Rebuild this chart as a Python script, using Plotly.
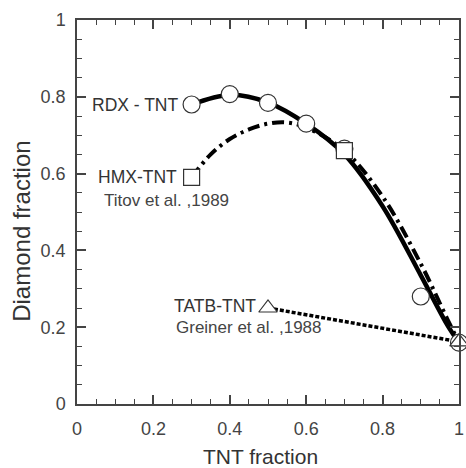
import plotly.graph_objects as go

# RDX-TNT measured points (circles)
rdx_x = [0.3, 0.4, 0.5, 0.6, 0.7, 0.9, 1.0]
rdx_y = [0.78, 0.807, 0.784, 0.73, 0.665, 0.28, 0.16]
# RDX-TNT fit curve (solid)
rdx_fit_x = [0.3, 0.4, 0.5, 0.6, 0.7, 0.8, 0.9, 0.97, 1.0]
rdx_fit_y = [0.78, 0.805, 0.785, 0.73, 0.65, 0.515, 0.335, 0.205, 0.16]
# HMX-TNT points (squares)
hmx_x = [0.3, 0.7]
hmx_y = [0.59, 0.66]
# HMX-TNT fit curve (dash-dot)
hmx_fit_x = [0.3, 0.35, 0.4, 0.45, 0.5, 0.55, 0.6, 0.7, 0.8, 0.9, 0.97, 1.0]
hmx_fit_y = [0.59, 0.65, 0.69, 0.715, 0.73, 0.733, 0.72, 0.66, 0.54, 0.365, 0.22, 0.16]
# TATB-TNT (triangles + dotted line)
tatb_x = [0.5, 1.0]
tatb_y = [0.25, 0.162]
tick_vals = [0, 0.2, 0.4, 0.6, 0.8, 1]
tick_text = ["0", "0.2", "0.4", "0.6", "0.8", "1"]

FONT = "Liberation Sans, Arial, sans-serif"

fig = go.Figure()
fig.add_trace(go.Scatter(x=rdx_fit_x, y=rdx_fit_y, mode="lines", line=dict(color="black", width=4.5, shape="spline"), hoverinfo="skip"))
fig.add_trace(go.Scatter(x=hmx_fit_x, y=hmx_fit_y, mode="lines", line=dict(color="black", width=4, shape="spline", dash="12px,5px,3px,5px"), hoverinfo="skip"))
fig.add_trace(go.Scatter(x=tatb_x, y=tatb_y, mode="lines", line=dict(color="black", width=3.5, dash="4px,2px")))
fig.add_trace(go.Scatter(x=rdx_x, y=rdx_y, mode="markers", cliponaxis=False,
                         marker=dict(symbol="circle", size=17, color="white", line=dict(color="#333", width=1.2))))
fig.add_trace(go.Scatter(x=hmx_x, y=hmx_y, mode="markers", cliponaxis=False,
                         marker=dict(symbol="square", size=16, color="white", line=dict(color="#333", width=1.2))))
fig.add_trace(go.Scatter(x=tatb_x, y=tatb_y, mode="markers", cliponaxis=False,
                         marker=dict(symbol="triangle-up", size=16, color="white", line=dict(color="#333", width=1.2))))

big = dict(family=FONT, size=17.5, color="#333")
small = dict(family=FONT, size=17, color="#444")
labels = [
    ("RDX - TNT", 0.272, 0.778, "right", big),
    ("HMX-TNT", 0.268, 0.59, "right", big),
    ("Titov et al. ,1989", 0.065, 0.53, "left", small),
    ("TATB-TNT", 0.473, 0.255, "right", big),
    ("Greiner et al. ,1988", 0.255, 0.198, "left", small),
]
for t, x, y, anc, f in labels:
    fig.add_annotation(x=x, y=y, text=t, showarrow=False, xanchor=anc, yanchor="middle", font=f)

# axis titles
fig.add_annotation(xref="paper", yref="paper", x=0.48, y=-0.138, text="TNT fraction", showarrow=False,
                   xanchor="center", yanchor="middle", font=dict(family=FONT, size=21, color="#333"))
fig.add_annotation(xref="paper", yref="paper", x=-0.145, y=0.45, text="Diamond fraction", showarrow=False, textangle=-90,
                   xanchor="center", yanchor="middle", font=dict(family=FONT, size=24, color="#333"))

axis_common = dict(
    showline=True, linecolor="#444", linewidth=1.5, mirror="allticks",
    ticks="inside", ticklen=9, tickwidth=1.5, tickcolor="#444",
    showgrid=False, zeroline=False, ticklabeloverflow="allow",
    tickvals=tick_vals, ticktext=tick_text, range=[0, 1],
    tickfont=dict(family=FONT, size=18, color="#444"),
    minor=dict(ticks="inside", ticklen=5, tickwidth=1.2, tickcolor="#444", dtick=0.05, showgrid=False),
)
fig.update_xaxes(ticklabelstandoff=8, **axis_common)
fig.update_yaxes(ticklabelstandoff=6, **axis_common)
fig.update_layout(width=466, height=468, margin=dict(l=77, r=2, t=20, b=64),
                  plot_bgcolor="white", paper_bgcolor="white", showlegend=False)
fig.write_html("out.html")
